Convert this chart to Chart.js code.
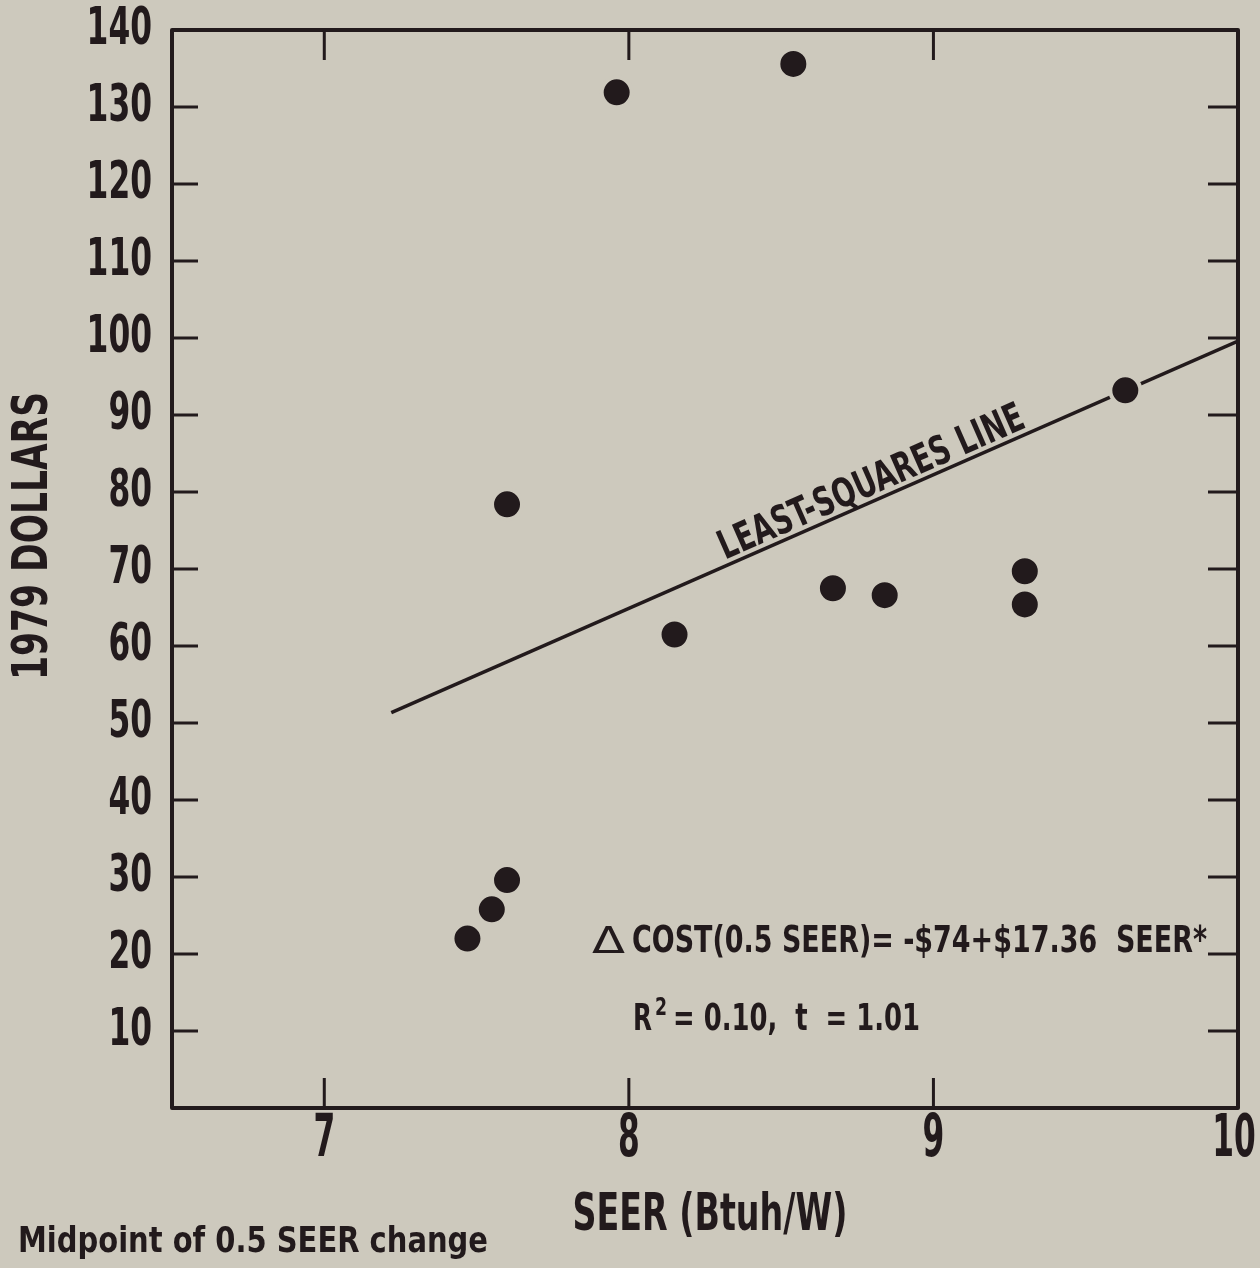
<!DOCTYPE html>
<html>
<head>
<meta charset="utf-8">
<script src="https://cdn.jsdelivr.net/npm/chart.js@4.4.1/dist/chart.umd.min.js"></script>
<style>
  html, body { margin: 0; padding: 0; background: #cdc9bd; }
  #wrap { width: 1260px; height: 1268px; }
</style>
</head>
<body>
<div id="wrap"><canvas id="seerChart"></canvas></div>
<script>
// SEER of each unit and the 1979 cost of a 0.5 SEER step
const seer = [7.47, 7.55, 7.60, 7.60, 7.96, 8.15, 8.54, 8.67, 8.84, 9.30, 9.30, 9.63];
const cost = [22.0, 25.8, 29.6, 78.4, 131.9, 61.5, 135.6, 67.5, 66.6, 69.7, 65.4, 93.2];

// least-squares fit: cost = intercept + slope * SEER
const fitIntercept = -74;
const fitSlope = 17.36;
const fitRange = [7.22, 10];

const xTicks = [7, 8, 9, 10];
const yTicks = [10, 20, 30, 40, 50, 60, 70, 80, 90, 100, 110, 120, 130, 140];

const paper = '#cdc9bd';
const ink = '#221a1c';
const face = "'DejaVu Sans Condensed', 'DejaVu Sans', sans-serif";

const fitLine = fitRange.map(x => ({ x: x, y: fitIntercept + fitSlope * x }));
const points = seer.map((x, i) => ({ x: x, y: cost[i] }));

// the lettering is a very narrow gothic, so squeeze the text horizontally
function squeezed(ctx, text, x, y, font, sx, align) {
  ctx.save();
  ctx.font = font;
  ctx.translate(x, y);
  ctx.scale(sx, 1);
  ctx.textAlign = align || 'left';
  ctx.fillText(text, 0, 0);
  ctx.restore();
}

// squeeze text so it spans a given width
function fitted(ctx, text, x, y, font, width, align) {
  ctx.font = font;
  const w = ctx.measureText(text).width;
  squeezed(ctx, text, x, y, font, width / w, align);
}

const paperPlugin = {
  id: 'paper',
  beforeDraw(chart) {
    const ctx = chart.ctx;
    ctx.save();
    ctx.fillStyle = paper;
    ctx.fillRect(0, 0, chart.width, chart.height);
    ctx.restore();
  }
};

// frame, inward ticks, tick labels and the text written on the figure
const framePlugin = {
  id: 'frame',
  afterDraw(chart) {
    const ctx = chart.ctx;
    const a = chart.chartArea;
    const xs = chart.scales.x, ys = chart.scales.y;
    ctx.save();
    ctx.strokeStyle = ink;
    ctx.lineWidth = 4;
    ctx.lineJoin = 'round';
    ctx.strokeRect(a.left, a.top, a.right - a.left, a.bottom - a.top);

    ctx.lineWidth = 3;
    ctx.beginPath();
    xTicks.filter(v => v < 10).forEach(v => {
      const px = xs.getPixelForValue(v);
      ctx.moveTo(px, a.top); ctx.lineTo(px, a.top + 30);
      ctx.moveTo(px, a.bottom); ctx.lineTo(px, a.bottom - 30);
    });
    yTicks.filter(v => v < 140).forEach(v => {
      const py = ys.getPixelForValue(v);
      ctx.moveTo(a.left, py); ctx.lineTo(a.left + 26, py);
      ctx.moveTo(a.right, py); ctx.lineTo(a.right - 30, py);
    });
    ctx.stroke();

    ctx.fillStyle = ink;
    ctx.textBaseline = 'middle';

    // tick labels
    yTicks.forEach(v => {
      squeezed(ctx, String(v), a.left - 20, ys.getPixelForValue(v), 'bold 52px ' + face, 0.67, 'right');
    });
    xTicks.forEach(v => {
      const px = xs.getPixelForValue(v) - (v === 10 ? 4 : 0);
      squeezed(ctx, String(v), px, a.bottom + 33, 'bold 58px ' + face, 0.6, 'center');
    });

    // label along the fitted line
    const p0 = { x: xs.getPixelForValue(fitRange[0]), y: ys.getPixelForValue(fitLine[0].y) };
    const p1 = { x: xs.getPixelForValue(fitRange[1]), y: ys.getPixelForValue(fitLine[1].y) };
    const ang = Math.atan2(p1.y - p0.y, p1.x - p0.x);
    const lx = 8.82;
    ctx.save();
    ctx.translate(xs.getPixelForValue(lx), ys.getPixelForValue(fitIntercept + fitSlope * lx));
    ctx.rotate(ang);
    ctx.textBaseline = 'alphabetic';
    fitted(ctx, 'LEAST-SQUARES LINE', 0, -6, 'bold 40px ' + face, 330, 'center');
    ctx.restore();

    // regression equation
    ctx.textBaseline = 'alphabetic';
    fitted(ctx, '\u0394', 592, 953, '38px ' + face, 33, 'left');
    fitted(ctx, 'COST(0.5 SEER)= -$74+$17.36  SEER*', 632, 952, 'bold 38px ' + face, 575, 'left');

    fitted(ctx, 'R', 633, 1030, 'bold 38px ' + face, 19, 'left');
    fitted(ctx, '2', 655, 1015, 'bold 24px ' + face, 12, 'left');
    fitted(ctx, '= 0.10,  t  = 1.01', 673, 1030, 'bold 38px ' + face, 247, 'left');

    // axis titles and note
    ctx.textBaseline = 'middle';
    fitted(ctx, 'SEER (Btuh/W)', 710, 1216, 'bold 52px ' + face, 275, 'center');
    fitted(ctx, 'Midpoint of 0.5 SEER change', 18, 1243, 'bold 36px ' + face, 470, 'left');

    ctx.save();
    ctx.translate(34, 536);
    ctx.rotate(-Math.PI / 2);
    fitted(ctx, '1979 DOLLARS', 0, 0, 'bold 50px ' + face, 288, 'center');
    ctx.restore();

    ctx.restore();
  }
};

new Chart(document.getElementById('seerChart'), {
  type: 'scatter',
  data: {
    datasets: [
      {
        label: 'units',
        data: points,
        order: 0,
        pointRadius: 15,
        pointBorderWidth: 4,
        pointBorderColor: paper,
        pointBackgroundColor: ink,
        pointHoverRadius: 15
      },
      {
        label: 'least squares',
        type: 'line',
        data: fitLine,
        order: 1,
        borderColor: ink,
        borderWidth: 3.5,
        pointRadius: 0,
        fill: false
      }
    ]
  },
  options: {
    responsive: true,
    maintainAspectRatio: false,
    animation: false,
    layout: { padding: { left: 0, top: 30, right: 22, bottom: 0 } },
    plugins: { legend: { display: false }, tooltip: { enabled: false } },
    scales: {
      x: {
        type: 'linear',
        min: 6.5,
        max: 10,
        grid: { display: false },
        border: { display: false },
        ticks: { display: false },
        afterFit: s => { s.height = 160; }
      },
      y: {
        type: 'linear',
        min: 0,
        max: 140,
        grid: { display: false },
        border: { display: false },
        ticks: { display: false },
        afterFit: s => { s.width = 172; }
      }
    }
  },
  plugins: [paperPlugin, framePlugin]
});
</script>
</body>
</html>
